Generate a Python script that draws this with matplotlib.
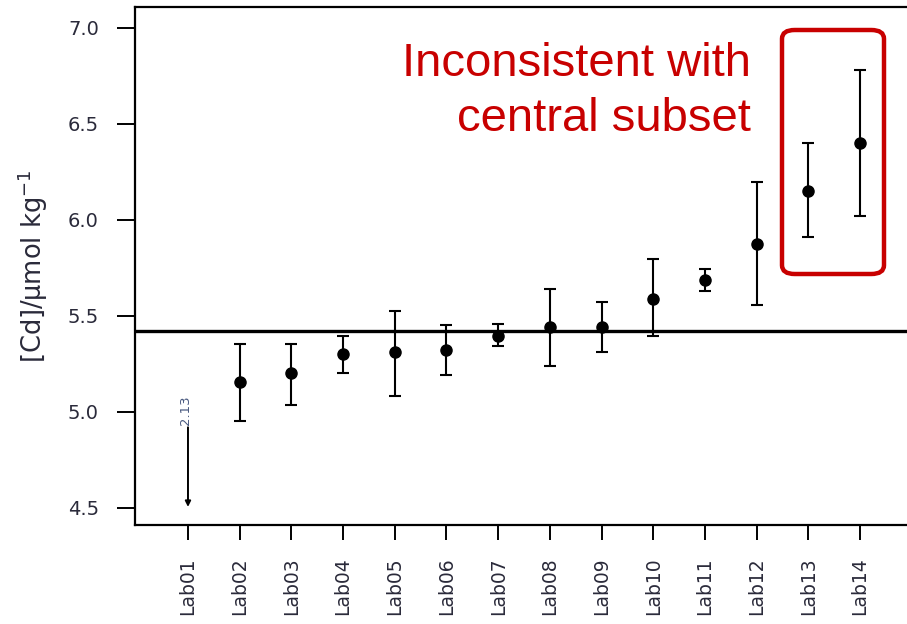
import matplotlib
matplotlib.use("Agg")
import matplotlib.pyplot as plt
from matplotlib.patches import FancyBboxPatch

# lab results (Lab01 is off-scale, shown with an arrow)
labs = ["Lab01", "Lab02", "Lab03", "Lab04", "Lab05", "Lab06", "Lab07",
        "Lab08", "Lab09", "Lab10", "Lab11", "Lab12", "Lab13", "Lab14"]
values = [2.13, 5.158, 5.205, 5.30, 5.313, 5.323, 5.395,
          5.44, 5.44, 5.59, 5.685, 5.875, 6.15, 6.40]
upper = [None, 5.355, 5.355, 5.396, 5.526, 5.453, 5.46,
         5.64, 5.57, 5.795, 5.745, 6.20, 6.40, 6.78]
lower = [None, 4.955, 5.035, 5.203, 5.083, 5.193, 5.345,
         5.24, 5.31, 5.395, 5.63, 5.555, 5.91, 6.02]
ref_value = 5.424
yticks = [4.5, 5.0, 5.5, 6.0, 6.5, 7.0]

W, H = 907, 624
fig = plt.figure(figsize=(W / 100, H / 100), dpi=100)
ax = fig.add_axes([135 / W, 1 - 525 / H, (W - 135) / W, (525 - 7) / H])

tick_col = "#2a2a3a"
for i in range(1, len(labs)):
    v = values[i]
    ax.errorbar(i, v, yerr=[[v - lower[i]], [upper[i] - v]], fmt="o",
                color="black", ms=8, elinewidth=1.5, capsize=4.2, capthick=1.5)

# off-scale lab: arrow pointing down plus its value
ax.annotate("", xy=(0, 4.505), xytext=(0, 4.92),
            arrowprops=dict(arrowstyle="-|>", color="black", lw=1.4,
                            mutation_scale=8, shrinkA=0, shrinkB=0))
ax.text(-0.05, 4.93, f"{values[0]:.2f}", rotation=90, ha="center", va="bottom",
        fontsize=9.5, color="#4a5a80")

ax.axhline(ref_value, color="black", lw=2.4)

ax.set_xlim(-1.025, 13.91)
ax.set_ylim(4.411, 7.109)
ax.set_xticks(range(len(labs)))
ax.set_xticklabels(labs, rotation=90, fontsize=13.5, color=tick_col)
ax.set_yticks(yticks)
ax.set_yticklabels([f"{t:.1f}" for t in yticks], fontsize=14, color=tick_col)
ax.tick_params(axis="x", length=11, width=1.4, pad=12)
ax.tick_params(axis="y", length=13, width=1.4, pad=13)
for s in ["left", "top", "bottom"]:
    ax.spines[s].set_linewidth(1.6)
ax.spines["right"].set_visible(False)

fig.text(33 / W, 1 - 266 / H, "[Cd]/µmol kg$^{-1}$", rotation=90,
         ha="center", va="center", fontsize=18.5, color=tick_col)

# highlight of the inconsistent labs
red = "#c80000"
box = FancyBboxPatch((782 / W, 1 - 274 / H), (884 - 782) / W, (274 - 30) / H,
                     boxstyle="round,pad=0,rounding_size=0.014",
                     transform=fig.transFigure, fill=False, ec=red, lw=3.2)
fig.add_artist(box)
fig.text(751 / W, 1 - 76 / H, "Inconsistent with", ha="right", va="baseline",
         fontsize=34, color=red, family="Liberation Sans")
fig.text(751 / W, 1 - 131 / H, "central subset", ha="right", va="baseline",
         fontsize=34, color=red, family="Liberation Sans")

fig.savefig("out.png", dpi=100)
